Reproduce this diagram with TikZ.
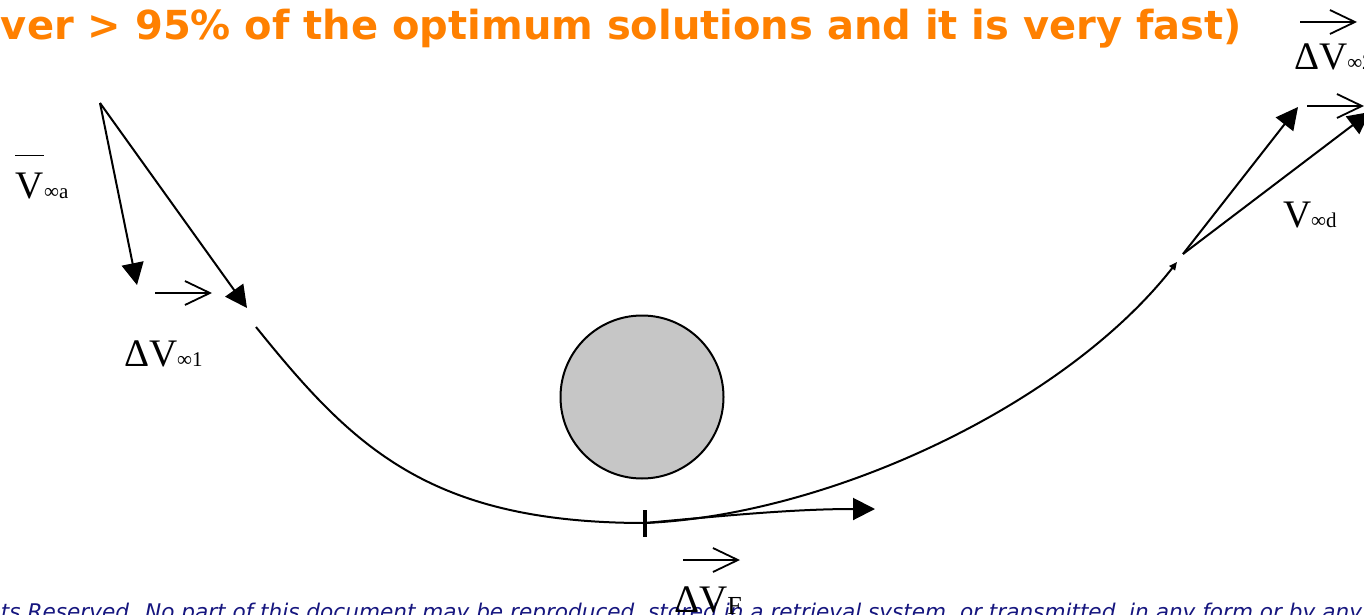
\documentclass[tikz,border=0pt]{standalone}
\usepackage{fontspec}
\setmainfont{Liberation Serif}
\newfontfamily\headfont{DejaVu Sans}
\usepackage{tikz}
\usetikzlibrary{arrows.meta}
\definecolor{head}{HTML}{FF8000}
\definecolor{foot}{HTML}{16167F}
\definecolor{planetbg}{HTML}{C6C6C6}
\newcommand\subsz{\fontsize{10.5}{11}\selectfont}

\begin{document}
\begin{tikzpicture}[x=0.5pt,y=-0.5pt,line width=1pt,>={Triangle[length=11pt,width=11pt]},
  lbl/.style={anchor=base west,inner sep=0pt,font=\fontsize{19.5}{20}\selectfont},
  vec/.style={-{Straight Barb[length=12.5pt,width=12pt]},line width=0.9pt},
  planet/.style={circle,draw,fill=planetbg,minimum size=81.5pt,inner sep=0pt}]
  \useasboundingbox (0,0) rectangle (1364,615);
  \clip (0,0) rectangle (1364,615);
  \node[anchor=base west,inner sep=0pt,text=head,font=\headfont\bfseries\fontsize{20}{22}\selectfont]
    (title) at (0,39.5) {ver > 95\% of the optimum solutions and it is very fast)};
  \node[anchor=base west,inner sep=0pt,text=foot,font=\headfont\itshape\fontsize{10.8}{12}\selectfont]
    (foot) at (0,619) {ts Reserved. No part of this document may be reproduced, stored in a retrieval system, or transmitted, in any form or by any};
  \node[planet] (earth) at (642,397) {};
  % arrival
  \coordinate (a0) at (100,103);
  \coordinate (a1) at (137,285);
  \coordinate (a2) at (247,308);
  \draw[->] (a0) -- (a1);
  \draw[->] (a0) -- (a2);
  \node[lbl] (va) at (15,198) {V{\subsz ∞a}};
  \draw[line width=0.9pt] ([yshift=8pt]va.north west) -- ++(29,0);
  \node[lbl] (dv1) at (123,366) {ΔV{\subsz ∞1}};
  \draw[vec] (155,293) -- (212,293);
  % flyby
  \coordinate (entry) at (256,327);
  \coordinate (peri) at (645,523);
  \coordinate (exit) at (1177,262);
  \draw (entry) .. controls (352,446) and (428,523) .. (peri);
  \draw[-{Triangle[length=4pt,width=3.5pt]}] (peri) .. controls (830,515) and (1065,405) .. (exit);
  \draw[line width=2pt] (645,510) -- (645,537);
  \coordinate (fend) at (875,509);
  \draw[->] (peri) .. controls (740,514) and (800,509) .. (fend);
  \draw[vec] (683,560) -- (740,560);
  \node[lbl] (dvf) at (673,612) {ΔV\raisebox{-1pt}{\fontsize{13}{14}\selectfont F}};
  % departure
  \coordinate (d0) at (1183,254);
  \coordinate (d1) at (1298,107);
  \coordinate (d2) at (1370,112);
  \draw[->] (d0) -- (d1);
  \draw[->] (d0) -- (d2);
  \node[lbl] (vd) at (1282,227) {V{\subsz ∞d}};
  \node[lbl] (dv2) at (1293,70) {ΔV{\subsz ∞2}};
  \draw[vec] (1300,22) -- (1357,22);
  \draw[vec] (1307,106) -- (1364,106);
\end{tikzpicture}
\end{document}
